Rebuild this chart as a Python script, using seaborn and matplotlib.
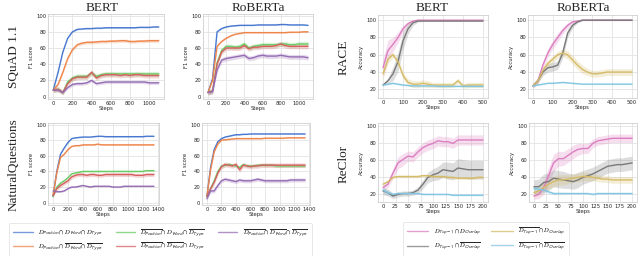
import numpy as np
import pandas as pd
import matplotlib
matplotlib.use("Agg")
import matplotlib.pyplot as plt
from matplotlib.lines import Line2D
import seaborn as sns

sns.set_theme(style="whitegrid")
plt.rcParams["mathtext.fontset"] = "stix"

# ---------------- data ----------------
squad_steps = list(range(0, 1101, 50))
nq_steps = list(range(0, 1351, 50))
race_steps = list(range(0, 501, 25))
reclor_steps = list(range(0, 201, 10))

series5 = ["s1", "s2", "s3", "s4", "s5"]
series4 = ["t1", "t2", "t3", "t4"]

# SQuAD 1.1 - BERT
sq_bert = {
    "s1": [8, 30, 55, 72, 80, 83, 83.5, 84, 84, 84.5, 84.5, 85, 85, 85, 85, 85, 85, 85, 85.5, 85.5, 85.5, 86, 86],
    "s2": [8, 15, 30, 47, 58, 64, 66, 67, 67, 67.5, 68, 68, 68.5, 68.5, 69, 69, 68, 68, 68.5, 68.5, 69, 69, 69],
    "s3": [8, 9, 5, 18, 23, 25, 25, 25, 29, 25, 27, 28, 28, 28, 28, 28, 28, 28, 28, 28, 28, 28, 28],
    "s4": [8, 9, 5, 16, 22, 24, 24, 24, 30, 23, 26, 27, 27, 27, 26, 27, 26, 27, 27, 26, 26, 26, 26],
    "s5": [8, 8, 5, 11, 15, 16, 16, 17, 20, 16, 17, 18, 18, 18, 18, 18, 18, 18, 18, 18, 17, 17, 17],
}
sq_bert_band = {"s1": 0.8, "s2": 2.0, "s3": 3.0, "s4": 3.0, "s5": 2.0}

# SQuAD 1.1 - RoBERTa
sq_rob = {
    "s1": [5, 22, 80, 84, 86, 87, 87.5, 88, 88, 88, 88, 88.5, 88.5, 88.5, 88.5, 88.5, 89, 89, 88.5, 88.5, 88.5, 88.5, 88],
    "s2": [5, 20, 62, 68, 72, 75, 77, 78, 79, 79, 79, 79, 79, 79, 79, 79, 79, 79, 79.5, 79.5, 79.5, 80, 80],
    "s3": [5, 7, 42, 57, 62, 62, 61, 62, 65, 60, 62, 63, 64, 64, 64, 64, 65, 65, 64, 64, 65, 65, 65],
    "s4": [5, 7, 40, 55, 60, 60, 60, 60, 63, 59, 61, 61, 62, 62, 62, 63, 65, 63, 62, 62, 62, 62, 62],
    "s5": [5, 6, 33, 45, 47, 48, 49, 50, 51, 47, 48, 50, 51, 50, 50, 50, 51, 50, 49, 49, 49, 49, 48],
}
sq_rob_band = {"s1": 0.6, "s2": 0.8, "s3": 3.0, "s4": 3.0, "s5": 3.0}

# NaturalQuestions - BERT
nq_bert = {
    "s1": [8, 40, 62, 70, 77, 82, 83, 83.5, 84, 84, 84, 84.5, 85, 85, 84.5, 84.5, 84.5, 84.5, 84.5, 84.5, 84.5, 84.5, 84.5, 84.5, 84.5, 85, 85, 85],
    "s2": [10, 38, 58, 62, 68, 72, 73, 73, 74, 74, 74, 74, 75, 74, 74, 74, 74, 74, 74, 74, 74, 74, 74, 74, 74, 74, 74, 74],
    "s3": [8, 20, 25, 28, 32, 37, 38, 39, 40, 40, 40, 40, 40, 40, 40, 40, 40, 40, 40, 40, 40, 40, 40, 40, 40, 41, 41, 41],
    "s4": [9, 18, 22, 25, 28, 33, 35, 36, 36, 35, 36, 36, 35, 35, 36, 36, 36, 36, 36, 36, 36, 36, 35, 35, 35, 36, 36, 36],
    "s5": [15, 14, 14, 15, 18, 20, 20, 21, 22, 21, 20, 21, 21, 21, 21, 21, 20, 20, 20, 21, 21, 21, 21, 21, 21, 21, 21, 21],
}
nq_bert_band = {"s1": 0.5, "s2": 0.8, "s3": 1.0, "s4": 2.5, "s5": 0.8}

# NaturalQuestions - RoBERTa
nq_rob = {
    "s1": [8, 45, 68, 78, 82, 84, 85, 86, 87, 87, 87.5, 87.5, 88, 88, 88, 88, 88, 88, 88, 88, 88, 88, 88, 88, 88, 88, 88, 88],
    "s2": [8, 42, 65, 75, 80, 80.5, 81, 81.5, 82, 82, 82, 82, 82, 82, 82, 82, 82.5, 82.5, 82.5, 82.5, 82.5, 82.5, 83, 83, 83, 83, 83, 83],
    "s3": [8, 18, 28, 40, 47, 48, 49, 48, 47, 45, 49, 47, 47, 47, 48, 48, 48, 48, 48, 47, 47, 47, 47, 47, 47, 47, 47, 47],
    "s4": [8, 18, 26, 38, 46, 49, 48, 47, 49, 42, 48, 47, 46, 47, 47, 48, 48, 48, 48, 48, 48, 48, 48, 48, 48, 48, 48, 48],
    "s5": [5, 15, 15, 22, 28, 30, 29, 28, 27, 29, 28, 28, 28, 29, 30, 29, 28, 28, 28, 28, 28, 28, 28, 29, 29, 29, 29, 29],
}
nq_rob_band = {"s1": 0.5, "s2": 0.6, "s3": 2.0, "s4": 3.0, "s5": 2.5}

# RACE - BERT
race_bert = {
    "t1": [45, 65, 72, 80, 90, 96, 99, 100, 100, 100, 100, 100, 100, 100, 100, 100, 100, 100, 100, 100, 100],
    "t2": [25, 30, 38, 52, 76, 90, 97, 99, 99, 99, 99, 99, 99, 99, 99, 99, 99, 99, 99, 99, 99],
    "t3": [38, 55, 60, 52, 36, 28, 26, 26, 27, 26, 25, 25, 25, 25, 25, 30, 24, 25, 25, 25, 25],
    "t4": [25, 26, 27, 26, 25, 24.5, 24, 24, 24, 24, 24, 23.5, 23.5, 23.5, 23.5, 23.5, 23.5, 23.5, 23.5, 23.5, 23.5],
}
race_bert_band = {
    "t1": [10, 12, 8, 6, 4, 2, 1, 0.5, 0.5, 0.5, 0.5, 0.5, 0.5, 0.5, 0.5, 0.5, 0.5, 0.5, 0.5, 0.5, 0.5],
    "t2": [1, 3, 8, 11, 10, 6, 3, 1, 0.5, 0.5, 0.5, 0.5, 0.5, 0.5, 0.5, 0.5, 0.5, 0.5, 0.5, 0.5, 0.5],
    "t3": [6, 5, 3, 4, 4, 4, 4, 4, 4, 4, 3, 3, 3, 3, 3, 3, 3, 3, 3, 3, 3],
    "t4": 1.0,
}

# RACE - RoBERTa
race_rob = {
    "t1": [24, 30, 48, 62, 72, 80, 88, 94, 98, 99, 100, 100, 100, 100, 100, 100, 100, 100, 100, 100, 100],
    "t2": [24, 30, 40, 45, 46, 48, 62, 85, 94, 98, 100, 100, 100, 100, 100, 100, 100, 100, 100, 100, 100],
    "t3": [24, 30, 42, 50, 55, 60, 62, 60, 54, 48, 43, 40, 38, 38, 39, 40, 40, 40, 40, 40, 40],
    "t4": [24, 25, 26, 27, 27, 27.5, 28, 27.5, 27, 26.5, 26, 26, 26, 26, 26, 26, 26, 26, 26, 26, 26],
}
race_rob_band = {
    "t1": [3, 3, 4, 5, 5, 5, 4, 3, 2, 1, 0.5, 0.5, 0.5, 0.5, 0.5, 0.5, 0.5, 0.5, 0.5, 0.5, 0.5],
    "t2": [2, 3, 4, 5, 5, 5, 6, 5, 3, 1, 0.5, 0.5, 0.5, 0.5, 0.5, 0.5, 0.5, 0.5, 0.5, 0.5, 0.5],
    "t3": [2, 3, 4, 4, 4, 4, 4, 5, 5, 5, 5, 4, 4, 4, 4, 4, 4, 4, 4, 4, 4],
    "t4": 0.6,
}

# ReClor - BERT
reclor_bert = {
    "t1": [28, 32, 45, 57, 61, 65, 64, 70, 75, 78, 80, 83, 82, 82, 80, 84, 84, 84, 84, 84, 84],
    "t2": [24, 22, 18, 20, 21, 21, 22, 25, 32, 40, 43, 45, 49, 48, 47, 51, 50, 49, 49, 49, 49],
    "t3": [32, 35, 40, 41, 41, 41, 41, 41, 42, 42, 41, 41, 41, 40, 40, 39, 39, 39, 39, 40, 40],
    "t4": [25, 22, 20, 21, 21, 21, 21, 21, 20, 20, 20, 20, 20, 20, 19, 19, 19, 19, 19, 19, 19],
}
reclor_bert_band = {
    "t1": [3, 4, 6, 7, 7, 6, 6, 6, 6, 6, 6, 6, 6, 6, 6, 6, 6, 6, 6, 6, 6],
    "t2": [4, 4, 3, 3, 3, 3, 3, 4, 5, 6, 7, 8, 9, 10, 10, 11, 11, 11, 11, 11, 11],
    "t3": 1.5,
    "t4": [4, 3, 2, 1.5, 1, 1, 1, 1, 1, 1, 1, 1, 1, 1, 1, 1, 1, 1, 1, 1, 1],
}

# ReClor - RoBERTa
reclor_rob = {
    "t1": [18, 20, 28, 42, 57, 62, 62, 66, 70, 73, 74, 74, 80, 83, 84, 85, 86, 86, 86, 86, 86],
    "t2": [29, 29, 34, 35, 39, 38, 37, 36, 35, 37, 40, 42, 44, 47, 50, 53, 54, 55, 55, 56, 57],
    "t3": [22, 24, 28, 32, 35, 37, 37, 38, 39, 40, 41, 41, 40, 39, 38, 38, 37, 37, 37, 37, 37],
    "t4": [27, 26, 25, 23, 21, 21, 21, 21, 21, 21, 21, 21, 20, 21, 21, 21, 21, 21, 21, 21, 21],
}
reclor_rob_band = {
    "t1": [4, 5, 8, 10, 10, 9, 8, 8, 8, 7, 6, 6, 5, 5, 5, 5, 5, 5, 5, 5, 5],
    "t2": [8, 9, 10, 10, 10, 10, 10, 9, 9, 9, 8, 8, 8, 8, 8, 8, 8, 8, 8, 8, 8],
    "t3": [5, 5, 6, 6, 6, 6, 6, 5, 5, 5, 5, 5, 4, 4, 4, 4, 4, 4, 4, 4, 4],
    "t4": [3, 3, 3, 2, 1.5, 1.5, 1.5, 1, 1, 1, 1, 1, 1, 1, 1, 1, 1, 1, 1, 1, 1],
}

labels5 = [
    r"$D_{\mathsf{Position}} \cap D_{\mathsf{Word}} \cap D_{\mathsf{Type}}$",
    r"$D_{\mathsf{Position}} \cap \overline{D_{\mathsf{Word}}} \cap \overline{D_{\mathsf{Type}}}$",
    r"$\overline{D_{\mathsf{Position}}} \cap D_{\mathsf{Word}} \cap \overline{D_{\mathsf{Type}}}$",
    r"$\overline{D_{\mathsf{Position}}} \cap \overline{D_{\mathsf{Word}}} \cap D_{\mathsf{Type}}$",
    r"$\overline{D_{\mathsf{Position}}} \cap \overline{D_{\mathsf{Word}}} \cap \overline{D_{\mathsf{Type}}}$",
]
labels4 = [
    r"$D_{\mathsf{Top-1}} \cap D_{\mathsf{Overlap}}$",
    r"$D_{\mathsf{Top-1}} \cap \overline{D_{\mathsf{Overlap}}}$",
    r"$\overline{D_{\mathsf{Top-1}}} \cap D_{\mathsf{Overlap}}$",
    r"$\overline{D_{\mathsf{Top-1}}} \cap \overline{D_{\mathsf{Overlap}}}$",
]

muted = sns.color_palette("muted")
pal5 = dict(zip(series5, [muted[0], muted[1], muted[2], muted[3], muted[4]]))
pal4 = dict(zip(series4, [muted[6], muted[7], muted[8], muted[9]]))

# ---------------- figure ----------------
W, H = 640, 256
fig = plt.figure(figsize=(W / 100, H / 100), dpi=100)


def box(l, t, r, b):
    return [l / W, 1 - b / H, (r - l) / W, (b - t) / H]


def make_df(steps, vals, bands, order):
    rows = []
    for s in order:
        v = np.asarray(vals[s], float)
        bw = bands[s]
        bw = np.full(len(v), bw, float) if np.isscalar(bw) else np.asarray(bw, float)
        for sign in (-1, 0, 1):
            for x, y, h in zip(steps, v, bw):
                rows.append((x, y + sign * h, s))
    return pd.DataFrame(rows, columns=["step", "val", "series"])


def panel(rect, steps, vals, bands, order, pal, ylabel, ylim, xticks, yticks):
    ax = fig.add_axes(box(*rect))
    df = make_df(steps, vals, bands, order)
    sns.lineplot(data=df, x="step", y="val", hue="series", hue_order=order,
                 palette=pal, errorbar=("pi", 100), estimator="mean",
                 linewidth=1.0, legend=False, ax=ax, err_kws={"alpha": 0.25, "linewidth": 0})
    ax.set_ylim(*ylim)
    ax.set_xticks(xticks)
    ax.set_yticks(yticks)
    ax.set_xlabel("Steps", fontsize=3.8, labelpad=0.5)
    ax.set_ylabel(ylabel, fontsize=3.8, labelpad=1.5)
    ax.tick_params(axis="both", labelsize=3.8, pad=1.2, length=0)
    ax.grid(True, color="#e3e3e3", linewidth=0.6)
    for sp in ax.spines.values():
        sp.set_color("#d0d0d0")
        sp.set_linewidth(0.6)
    return ax


yt = [0, 20, 40, 60, 80, 100]
yt2 = [20, 40, 60, 80, 100]
panel((48, 14, 164, 99), squad_steps, sq_bert, sq_bert_band, series5, pal5,
      "F1 score", (-3, 102), [0, 200, 400, 600, 800, 1000], yt)
panel((203, 14, 313, 99), squad_steps, sq_rob, sq_rob_band, series5, pal5,
      "F1 score", (-3, 102), [0, 200, 400, 600, 800, 1000], yt)
panel((48, 123, 159, 205), nq_steps, nq_bert, nq_bert_band, series5, pal5,
      "F1 score", (-3, 102), list(range(0, 1401, 200)), yt)
panel((202, 123, 310, 205), nq_steps, nq_rob, nq_rob_band, series5, pal5,
      "F1 score", (-3, 102), list(range(0, 1401, 200)), yt)

panel((378, 15, 488, 98), race_steps, race_bert, race_bert_band, series4, pal4,
      "Accuracy", (10, 106), [0, 100, 200, 300, 400, 500], yt2)
panel((528, 15, 637, 98), race_steps, race_rob, race_rob_band, series4, pal4,
      "Accuracy", (10, 106), [0, 100, 200, 300, 400, 500], yt2)
panel((378, 123, 488, 202), reclor_steps, reclor_bert, reclor_bert_band, series4, pal4,
      "Accuracy", (11, 104), list(range(0, 201, 25)), yt2)
panel((529, 123, 637, 202), reclor_steps, reclor_rob, reclor_rob_band, series4, pal4,
      "Accuracy", (11, 104), list(range(0, 201, 25)), yt2)

serif = ["Liberation Serif", "DejaVu Serif"]
for x, t in ((102, "BERT"), (258, "RoBERTa"), (432, "BERT"), (583, "RoBERTa")):
    fig.text(x / W, 1 - 8 / H, t, ha="center", va="center", fontsize=9.5, family=serif)
for x, y, t in ((14, 57, "SQuAD 1.1"), (14, 165, "NaturalQuestions"),
                (344, 57, "RACE"), (344, 164, "ReClor")):
    fig.text(x / W, 1 - y / H, t, ha="center", va="center", rotation=90,
             fontsize=9.5, family=serif)

# legends
h5 = [Line2D([], [], color=pal5[s], linewidth=1.0, alpha=0.75) for s in series5]
leg1 = fig.legend(h5, labels5, ncol=3, loc="center",
                  bbox_to_anchor=(160.5 / W, 1 - 239.5 / H), fontsize=4.9,
                  frameon=True, handlelength=2.8, columnspacing=1.9,
                  handletextpad=0.8, borderpad=0.6, labelspacing=0.5)
leg1.get_frame().set_edgecolor("#dddddd")
leg1.get_frame().set_linewidth(0.6)

h4 = [Line2D([], [], color=pal4[s], linewidth=1.0, alpha=0.75) for s in series4]
leg2 = fig.legend(h4, labels4, ncol=2, loc="center",
                  bbox_to_anchor=(486 / W, 1 - 239 / H), fontsize=4.8,
                  frameon=True, handlelength=3.2, columnspacing=1.6,
                  handletextpad=0.8, borderpad=0.6, labelspacing=0.5)
leg2.get_frame().set_edgecolor("#dddddd")
leg2.get_frame().set_linewidth(0.6)

fig.savefig("out.png", dpi=100)
